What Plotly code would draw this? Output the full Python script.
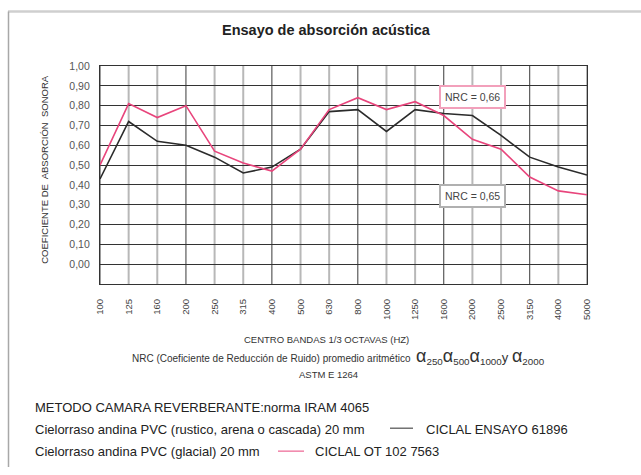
import plotly.graph_objects as go

# ---- data ----
bands = ["100", "125", "160", "200", "250", "315", "400", "500", "630", "800",
         "1000", "1250", "1600", "2000", "2500", "3150", "4000", "5000"]
rustico = [0.43, 0.72, 0.62, 0.60, 0.54, 0.46, 0.49, 0.58, 0.77, 0.78,
           0.67, 0.78, 0.76, 0.75, 0.65, 0.54, 0.49, 0.45]
glacial = [0.50, 0.81, 0.74, 0.80, 0.57, 0.51, 0.47, 0.58, 0.78, 0.84,
           0.78, 0.82, 0.75, 0.63, 0.58, 0.44, 0.37, 0.35]
y_ticks = [0.0, 0.1, 0.2, 0.3, 0.4, 0.5, 0.6, 0.7, 0.8, 0.9, 1.0]
y_ticktext = ["0,00", "0,10", "0,20", "0,30", "0,40", "0,50", "0,60", "0,70", "0,80", "0,90", "1,00"]
nrc_glacial = "NRC = 0,66"
nrc_rustico = "NRC = 0,65"
nrc_band = "2000"
alpha_bands = ["250", "500", "1000", "2000"]

FONT = "Liberation Sans, Arial, sans-serif"
BLACK = "#2b2b2b"
PINK = "#e8457c"

W, H = 641, 475
L, R, T, B = 100, 587, 66, 284.5


def px(x):
    return (x - L) / (R - L)


def py(y):
    return (B - y) / (B - T)


fig = go.Figure()
fig.add_trace(go.Scatter(x=bands, y=rustico, mode="lines",
                         line=dict(color=BLACK, width=1.6), name="rustico"))
fig.add_trace(go.Scatter(x=bands, y=glacial, mode="lines",
                         line=dict(color=PINK, width=1.6), name="glacial"))

shapes = []
# vertical grid lines (octave bands darker); category index positions
for i, b in enumerate(bands):
    dark = i % 3 == 0
    shapes.append(dict(type="line", xref="x", yref="paper", x0=i, x1=i, y0=0, y1=1,
                       line=dict(color="#3a3a3a" if dark else "#b8b8b8", width=1 if dark else 2),
                       layer="below"))
# outer frame
shapes.append(dict(type="line", xref="paper", yref="paper", x0=px(8), x1=px(641), y0=py(11.5), y1=py(11.5),
                   line=dict(color="#cfcfcf", width=2.5)))
shapes.append(dict(type="line", xref="paper", yref="paper", x0=px(8.5), x1=px(8.5), y0=py(11.5), y1=py(468),
                   line=dict(color="#a8a8a8", width=1.5)))
# legend samples
shapes.append(dict(type="line", xref="paper", yref="paper", x0=px(390), x1=px(413), y0=py(429), y1=py(429),
                   line=dict(color=BLACK, width=1)))
shapes.append(dict(type="line", xref="paper", yref="paper", x0=px(278), x1=px(304), y0=py(452), y1=py(452),
                   line=dict(color=PINK, width=1)))


def note(text, x, y, size, color="#333", xanchor="center", **kw):
    return dict(text=text, x=px(x), y=py(y), xref="paper", yref="paper", xanchor=xanchor,
                yanchor="middle", showarrow=False, font=dict(family=FONT, size=size, color=color), **kw)


ann = []
ann.append(note("<b>Ensayo de absorción acústica</b>", 326, 30, 14.5, color="#222"))
ann.append(note("COEFICIENTE DE  ABSORCIÓN  SONORA", 45, 170, 9.5, textangle=-90))
ann.append(dict(text=nrc_glacial, x=bands.index(nrc_band), y=0.843, xref="x", yref="y", showarrow=False,
                xanchor="center", yanchor="middle",
                font=dict(family=FONT, size=10.5, color="#444"), bgcolor="white",
                bordercolor="#f2a0bb", borderwidth=2, borderpad=4))
ann.append(dict(text=nrc_rustico, x=bands.index(nrc_band), y=0.345, xref="x", yref="y", showarrow=False,
                xanchor="center", yanchor="middle",
                font=dict(family=FONT, size=10.5, color="#444"), bgcolor="white",
                bordercolor="#b0b0b0", borderwidth=2, borderpad=4))
ann.append(note("CENTRO BANDAS 1/3 OCTAVAS (HZ)", 326, 340, 9.5))


def alpha_term(b):
    return ("<span style='font-size:18px'>α</span>"
            "<span style='font-size:14px'><sub>" + b + "</sub></span>")


alpha_text = (alpha_term(alpha_bands[0]) + alpha_term(alpha_bands[1]) + alpha_term(alpha_bands[2])
              + "<span style='font-size:13px'>y </span>" + alpha_term(alpha_bands[3]))
ann.append(note("NRC (Coeficiente de Reducción de Ruido) promedio aritmético  " + alpha_text,
                338, 357, 10))
ann.append(note("ASTM E 1264", 328, 375, 9.5))
for txt, xx, yy in [("METODO CAMARA REVERBERANTE:norma IRAM 4065", 33, 408),
                    ("Cielorraso andina PVC (rustico, arena o cascada) 20 mm", 33, 430),
                    ("CICLAL ENSAYO 61896", 424, 430),
                    ("Cielorraso andina PVC (glacial) 20 mm", 33, 452),
                    ("CICLAL OT 102 7563", 313, 452)]:
    ann.append(note(txt, xx, yy, 13, color="#222", xanchor="left"))

fig.update_layout(
    width=W, height=H,
    margin=dict(l=L, r=W - R, t=T, b=H - B),
    paper_bgcolor="white", plot_bgcolor="white",
    showlegend=False,
    shapes=shapes, annotations=ann,
    xaxis=dict(type="category", range=[0, len(bands) - 1], showgrid=False, zeroline=False,
               showline=True, mirror=True, linecolor="#333", linewidth=1.2,
               tickangle=-90, tickfont=dict(family=FONT, size=9.5, color="#444"),
               ticks="", ticklabelstandoff=10),
    yaxis=dict(range=[-0.1, 1.0], tickvals=y_ticks, ticktext=y_ticktext,
               showgrid=True, gridcolor="#333", gridwidth=1, zeroline=False,
               showline=True, mirror=True, linecolor="#333", linewidth=1.2,
               tickfont=dict(family=FONT, size=10.5, color="#555"), ticks="", ticklabelstandoff=7),
)

fig.write_html("out.html", config={"displayModeBar": False},
               post_script="document.body.style.margin='0px';")
